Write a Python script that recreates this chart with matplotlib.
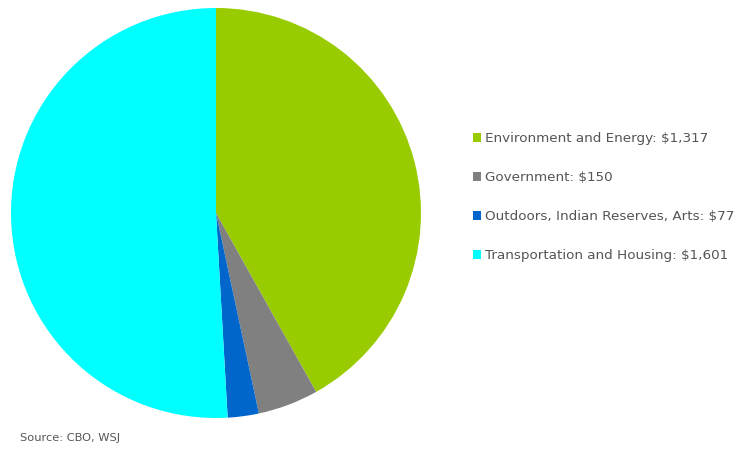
import matplotlib
matplotlib.use("Agg")
import matplotlib.pyplot as plt
from matplotlib.patches import Patch

categories = ["Environment and Energy", "Government", "Outdoors, Indian Reserves, Arts", "Transportation and Housing"]
values = [1317, 150, 77, 1601]
value_labels = ["$1,317", "$150", "$77", "$1,601"]
colors = ["#99CC00", "#808080", "#0066CC", "#00FFFF"]

fig = plt.figure(figsize=(7.44, 4.53), dpi=100)
ax = fig.add_axes([11/744, 35/453, 410/744, 410/453])
ax.pie(values, colors=colors, startangle=90, counterclock=False,
       wedgeprops=dict(linewidth=0))
ax.set_xlim(-1, 1)
ax.set_ylim(-1, 1)
ax.set_aspect("equal")

handles = [Patch(facecolor=c, edgecolor="none") for c in colors]
labels = [f"{c}: {v}" for c, v in zip(categories, value_labels)]
leg = fig.legend(handles, labels, loc="center left", bbox_to_anchor=(473/744, 1 - 197/453),
                 frameon=False, fontsize=9.7, labelspacing=1.93, handlelength=0.6,
                 handleheight=0.6, handletextpad=0.3, borderaxespad=0, borderpad=0)
for t in leg.get_texts():
    t.set_color("#555555")

fig.text(20/744, 1 - 438/453, "Source: CBO, WSJ", fontsize=8.2, color="#555555", va="center")

fig.savefig("out.png", dpi=100)
